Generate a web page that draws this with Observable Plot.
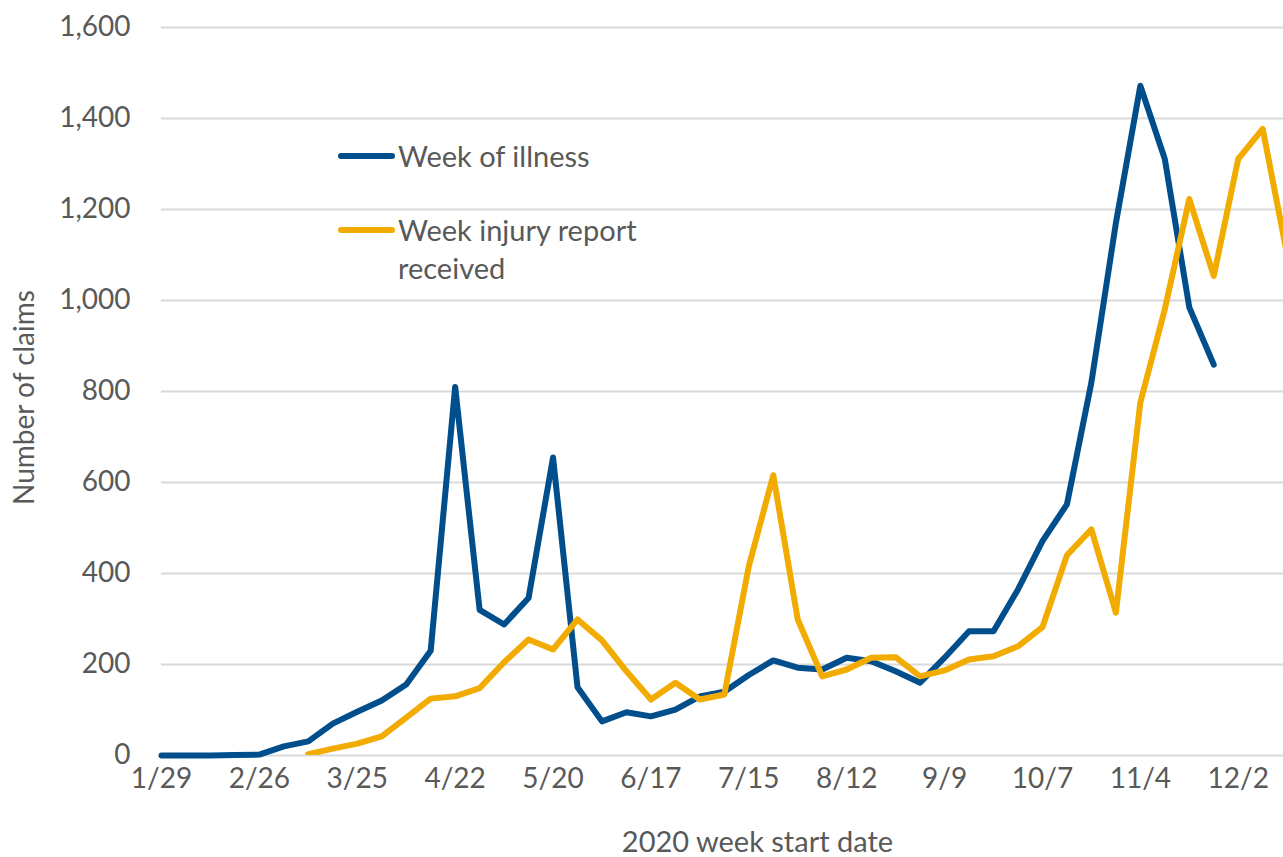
<!DOCTYPE html>
<html>
<head>
<meta charset="utf-8">
<script src="https://cdn.jsdelivr.net/npm/d3@7"></script>
<script src="https://cdn.jsdelivr.net/npm/@observablehq/plot@0.6"></script>
<style>
  html, body { margin: 0; padding: 0; background: #fff; }
  #wrap { position: relative; width: 1283px; height: 857px; overflow: hidden; font-family: Lato, "Open Sans", sans-serif; color: #595959; }
  .leg { position: absolute; font-size: 29px; line-height: 38px; color: #595959; white-space: nowrap; }
  .sw { position: absolute; height: 6px; border-radius: 3px; }
</style>
</head>
<body>
<div id="wrap">
  <div class="sw" style="left:338px; top:153px; width:57px; background:#004e8c;"></div>
  <div class="leg" style="left:398px; top:137px;">Week of illness</div>
  <div class="sw" style="left:338px; top:227px; width:57px; background:#f2ab00;"></div>
  <div class="leg" style="left:398px; top:211px;">Week injury report<br>received</div>
</div>
<script>
// Tick labels (every 4th week, starting 2020-01-29)
const tickLabels = ["1/29","2/26","3/25","4/22","5/20","6/17","7/15","8/12","9/9","10/7","11/4","12/2"];
const yTicks = [0, 200, 400, 600, 800, 1000, 1200, 1400, 1600];

// Week of illness (weeks 0..43 from 1/29)
const illness = [0,0,0,1,2,20,31,70,96,121,156,230,810,320,288,346,655,150,75,95,86,101,130,140,177,209,193,189,215,207,185,160,215,273,273,365,471,552,820,1170,1472,1311,985,859];

// Week injury report received (starts at week 6, 3/11)
const receivedStart = 6;
const received = [3,15,26,42,83,125,130,148,205,255,233,299,253,185,123,160,123,134,416,616,299,174,189,215,216,174,187,211,218,240,282,440,497,314,776,981,1223,1054,1311,1377,1100];

const illnessData = illness.map((v, i) => ({week: i, claims: v}));
const receivedData = received.map((v, i) => ({week: i + receivedStart, claims: v}));

const chart = Plot.plot({
  width: 1283,
  height: 857,
  marginLeft: 161,
  marginRight: 0,
  marginTop: 27,
  marginBottom: 102,
  style: {fontFamily: "Lato, 'Open Sans', sans-serif", fontSize: "28px", color: "#595959", background: "transparent"},
  x: {
    domain: [0, 45.85],
    ticks: tickLabels.map((_, i) => i * 4),
    tickFormat: d => tickLabels[d / 4],
    tickSize: 0,
    tickPadding: 13,
    label: null
  },
  y: {
    domain: [0, 1600],
    ticks: yTicks,
    tickFormat: d3.format(","),
    tickSize: 0,
    tickPadding: 31,
    label: null
  },
  marks: [
    Plot.ruleY(yTicks, {stroke: "#d9d9d9", strokeWidth: 2}),
    Plot.line(illnessData, {x: "week", y: "claims", stroke: "#004e8c", strokeWidth: 6, strokeLinejoin: "round", strokeLinecap: "round"}),
    Plot.line(receivedData, {x: "week", y: "claims", stroke: "#f2ab00", strokeWidth: 6, strokeLinejoin: "round", strokeLinecap: "round", clip: true}),
    Plot.text(["Number of claims"], {text: d => d, frameAnchor: "left", textAnchor: "middle", dx: -136, dy: 6, rotate: -90, fontSize: 28, fill: "#595959"}),
    Plot.text(["2020 week start date"], {text: d => d, frameAnchor: "bottom", textAnchor: "middle", dx: 35, dy: 96, fontSize: 29, fill: "#595959"})
  ]
});
const wrap = document.getElementById("wrap");
wrap.insertBefore(chart, wrap.firstChild);
chart.style.position = "absolute";
chart.style.left = "0";
chart.style.top = "0";
</script>
</body>
</html>
